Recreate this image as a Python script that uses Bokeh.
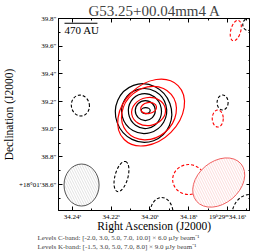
import numpy as np
from bokeh.plotting import figure
from bokeh.models import Range1d, FixedTicker, LinearAxis, Label, Title
from bokeh.embed import file_html
from bokeh.resources import INLINE

# ---------------- data ----------------
title_text = "G53.25+00.04mm4 A"
x_label = "Right Ascension (J2000)"
y_label = "Declination (J2000)"
x_ticks = [34.24, 34.22, 34.20, 34.18, 34.16]
x_tick_labels = ["34.24ˢ", "34.22ˢ", "34.20ˢ", "34.18ˢ", "19ʰ29ᵐ34.16ˢ"]
y_ticks = [38.6, 38.8, 39.0, 39.2, 39.4, 39.6, 39.8]
y_tick_labels = ["+18°01′38.6″", "38.8″", "39.0″", "39.2″", "39.4″", "39.6″", "39.8″"]

levels_lines = ["Levels C-band: [-2.0, 3.0, 5.0, 7.0, 10.0] × 6.0 μJy beam⁻¹",
                "Levels K-band: [-1.5, 3.0, 5.0, 7.0, 8.0] × 9.0 μJy beam⁻¹"]

# positive contours (ellipse approximations): RA [s], Dec ["], width [s], height ["], angle [deg]
blk_ra = [34.2033, 34.2030, 34.2026, 34.2024, 34.2022]
blk_dec = [39.1168, 39.1312, 39.1312, 39.1348, 39.1348]
blk_w = [0.02895, 0.02327, 0.01706, 0.01034, 0.00465]
blk_h = [0.4266, 0.3254, 0.2531, 0.1446, 0.0434]
blk_ang = [20, 15, 10, 0, 0]

red_ra = [34.1994, 34.2005, 34.2007, 34.2007]
red_dec = [39.1204, 39.1168, 39.1276, 39.1529]
red_w = [0.0393, 0.0300, 0.01758, 0.00827]
red_h = [0.405, 0.3616, 0.2024, 0.0795]
red_ang = [45, 40, 10, 10]

# negative (dashed) contours
nblk_ra = [34.2359, 34.1625, 34.2147, 34.1940, 34.1485, 34.1495]
nblk_dec = [39.1710, 39.1927, 38.6577, 38.3901, 38.3685, 39.7566]
nblk_w = [0.00931, 0.00569, 0.01603, 0.01189, 0.01861, 0.00517]
nblk_h = [0.1518, 0.1085, 0.0940, 0.2314, 0.3181, 0.0868]
nblk_ang = [10, 0, 75, 0, 0, 0]

nred_ra = [34.1650, 34.1557, 34.1800]
nred_dec = [39.0770, 39.7132, 38.6360]
nred_w = [0.00569, 0.01086, 0.01654]
nred_h = [0.1229, 0.0723, 0.2169]
nred_ang = [0, 75, 0]

# beams
beam_blk = dict(x=[34.2353], y=[38.5962], w=[0.0181], h=[0.3037], a=[0])
beam_red = dict(x=[34.1645], y=[38.6143], w=[0.0300], h=[0.3037], a=[40])

# scale bar
bar_ra = [34.2441, 34.2271]
bar_dec = [39.766, 39.766]
bar_text = "470 AU"

FONT = "Liberation Serif"

p = figure(frame_width=192, frame_height=192,
           x_range=Range1d(34.2472, 34.1481), y_range=Range1d(38.412, 39.8005),
           output_backend="svg", toolbar_location=None,
           min_border_left=0, min_border_right=0, min_border_top=0, min_border_bottom=0,
           x_axis_label=x_label, y_axis_label=y_label)
p.styles = {"position": "absolute", "left": "0px", "top": "0px"}

p.title.text = title_text
p.title.align = "center"
p.title.text_font = FONT
p.title.text_font_size = "15px"
p.title.text_font_style = "normal"
p.title.standoff = 0

p.xgrid.visible = False
p.ygrid.visible = False
p.outline_line_color = "black"
p.background_fill_color = "white"
p.border_fill_color = "white"

x_minor = list(np.round(np.arange(34.15, 34.25, 0.01), 3))
y_minor = list(np.round(np.arange(38.4, 39.85, 0.1), 2))
xt = FixedTicker(ticks=x_ticks, minor_ticks=x_minor)
yt = FixedTicker(ticks=y_ticks, minor_ticks=y_minor)

def style_axis(ax, show_labels):
    ax.major_tick_in = 4
    ax.major_tick_out = 0
    ax.minor_tick_in = 2
    ax.minor_tick_out = 0
    ax.major_tick_line_color = "black"
    ax.minor_tick_line_color = "black"
    ax.axis_line_color = "black"
    ax.major_label_text_font = FONT
    ax.axis_label_text_font = FONT
    ax.axis_label_text_font_style = "normal"
    ax.axis_label_text_color = "black"
    ax.major_label_text_color = "black"
    if show_labels:
        ax.major_label_text_font_size = "7px"
        ax.axis_label_text_font_size = "11.5px"
        ax.major_label_standoff = 2
        ax.axis_label_standoff = 1
    else:
        ax.major_label_text_font_size = "0px"
        ax.major_label_standoff = 0

xa = p.xaxis[0]
xa.ticker = xt
xa.major_label_overrides = dict(zip(x_ticks, x_tick_labels))
style_axis(xa, True)
xa.axis_label_standoff = -4
ya = p.yaxis[0]
ya.ticker = yt
ya.major_label_overrides = dict(zip(y_ticks, y_tick_labels))
style_axis(ya, True)

top = LinearAxis(ticker=xt, major_label_overrides={t: "" for t in x_ticks})
style_axis(top, False)
p.add_layout(top, "above")
right = LinearAxis(ticker=yt, major_label_overrides={t: "" for t in y_ticks})
style_axis(right, False)
p.add_layout(right, "right")

# contours
p.ellipse(x=blk_ra, y=blk_dec, width=blk_w, height=blk_h, angle=blk_ang, angle_units="deg",
          fill_color=None, line_color="black", line_width=1.2)
p.ellipse(x=red_ra, y=red_dec, width=red_w, height=red_h, angle=red_ang, angle_units="deg",
          fill_color=None, line_color="red", line_width=1.2)
p.ellipse(x=nblk_ra, y=nblk_dec, width=nblk_w, height=nblk_h, angle=nblk_ang, angle_units="deg",
          fill_color=None, line_color="black", line_width=1.1, line_dash="3 2")
p.ellipse(x=nred_ra, y=nred_dec, width=nred_w, height=nred_h, angle=nred_ang, angle_units="deg",
          fill_color=None, line_color="red", line_width=1.1, line_dash="3 2")

# beams
p.ellipse(x=beam_blk["x"], y=beam_blk["y"], width=beam_blk["w"], height=beam_blk["h"],
          angle=beam_blk["a"], angle_units="deg", fill_color="white", line_color="#555555",
          line_width=1, hatch_pattern="left_diagonal_line", hatch_color="#c4c4c4",
          hatch_scale=5, hatch_weight=0.5)
p.ellipse(x=beam_red["x"], y=beam_red["y"], width=beam_red["w"], height=beam_red["h"],
          angle=beam_red["a"], angle_units="deg", fill_color="white", line_color="#f06060",
          line_width=1, hatch_pattern="left_diagonal_line", hatch_color="#f9b8b8",
          hatch_scale=5, hatch_weight=0.5)

# scale bar
p.line(x=bar_ra, y=bar_dec, line_color="black", line_width=1.2)
p.add_layout(Label(x=bar_ra[0], y=bar_dec[0], text=bar_text, text_font=FONT,
                   text_font_size="11px", text_baseline="top", y_offset=-1,
                   text_color="black"))

# level captions below the axis label
cap = Title(text="\n".join(levels_lines), align="left", offset=-21, text_font=FONT,
            text_font_size="7px", text_font_style="normal", standoff=-2,
            text_line_height=1.15, vertical_align="top")
p.add_layout(cap, "below")

open("out.html", "w").write(file_html(p, INLINE))
